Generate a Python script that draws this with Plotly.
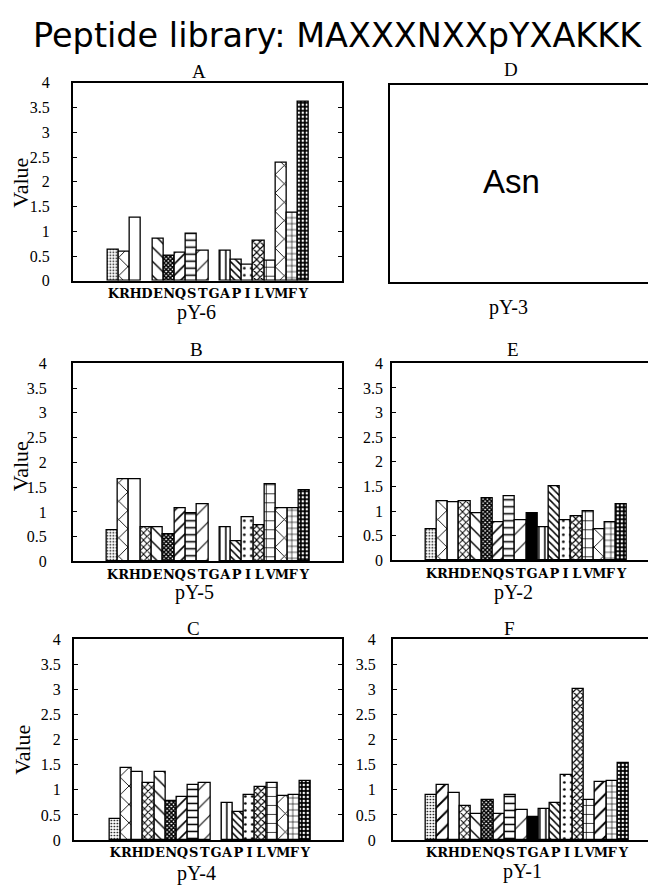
import plotly.graph_objects as go

# ---------------- data ----------------
residues = ["K", "R", "H", "D", "E", "N", "Q", "S", "T",
            "G", "A", "P", "I", "L", "V", "M", "F", "Y"]

pY6 = [0.63, 0.58, 1.27, None, 0.86, 0.50, 0.56, 0.96, 0.60,
       None, 0.60, 0.43, 0.33, 0.81, 0.41, 2.39, 1.37, 3.62]
pY5 = [0.62, 1.66, 1.66, 0.69, 0.69, 0.55, 1.07, 0.98, 1.16,
       None, 0.69, 0.41, 0.89, 0.72, 1.56, 1.07, 1.07, 1.44]
pY4 = [0.41, 1.44, 1.36, 1.13, 1.36, 0.77, 0.85, 1.10, 1.13,
       None, 0.74, 0.55, 0.90, 1.06, 1.13, 0.88, 0.90, 1.18]
pY2 = [0.64, 1.20, 1.18, 1.20, 0.96, 1.26, 0.77, 1.30, 0.81,
       0.96, 0.68, 1.51, 0.82, 0.90, 0.99, 0.64, 0.77, 1.13]
pY1 = [0.90, 1.10, 0.93, 0.67, 0.51, 0.80, 0.51, 0.90, 0.59,
       0.46, 0.62, 0.74, 1.29, 3.00, 0.80, 1.15, 1.17, 1.54]

y_ticks = [0, 0.5, 1, 1.5, 2, 2.5, 3, 3.5, 4]

main_title = "Peptide library: MAXXXNXXpYXAKKK"
missing_label = "Asn"

# ---------------- styles (pattern per residue) ----------------
# residue -> (shape, size, solidity, bg, fg)
style = {
    "K": (".", 3, 0.25, "white", "black"),
    "R": ("x", 13, 0.13, "white", "black"),
    "H": ("", 8, 0.2, "white", "black"),
    "D": ("x", 5, 0.35, "white", "black"),
    "E": ("\\", 10, 0.14, "white", "black"),
    "N": ("x", 3, 0.75, "white", "black"),
    "Q": ("/", 8, 0.2, "white", "black"),
    "S": ("-", 7, 0.22, "white", "black"),
    "T": ("/", 13, 0.08, "white", "black"),
    "G": ("/", 8, 0.5, "black", "black"),
    "A": ("|", 6, 0.25, "white", "black"),
    "P": ("\\", 5, 0.3, "white", "black"),
    "I": (".", 7, 0.12, "white", "black"),
    "L": ("x", 5, 0.4, "white", "black"),
    "V": ("+", 9, 0.16, "white", "black"),
    "M": ("x", 13, 0.13, "white", "black"),
    "F": ("+", 6, 0.2, "white", "black"),
    "Y": (".", 4, 0.3, "black", "white"),
}
# panel F uses diagonal hatching for R and M
style_F = dict(style)
style_F["R"] = ("/", 10, 0.2, "white", "black")
style_F["M"] = ("/", 10, 0.2, "white", "black")

W, H = 656, 895
# the page body adds an 8px margin, so positions below are page pixels
OX, OY = 8, 8
SERIF = "Liberation Serif"

# panel geometry in page pixels: box (left, top, right, bottom), bar extent (left, right)
panels = [
    dict(name="A", vals=pY6, sty=style, box=(73, 76, 343, 278), bars=(108, 310),
         title_xy=(200, 65), xlab="pY-6", xlab_xy=(197, 310), val_xy=(21, 178), standoff=18),
    dict(name="B", vals=pY5, sty=style, box=(73, 362, 343, 564), bars=(107, 311),
         title_xy=(197, 348), xlab="pY-5", xlab_xy=(195, 596), val_xy=(20, 467), standoff=21),
    dict(name="C", vals=pY4, sty=style, box=(74, 643, 343, 848), bars=(110, 312),
         title_xy=(194, 632), xlab="pY-4", xlab_xy=(197, 882), val_xy=(23, 756), standoff=8),
    dict(name="E", vals=pY2, sty=style, box=(393, 362, 664, 563), bars=(427, 629),
         title_xy=(515, 348), xlab="pY-2", xlab_xy=(515, 596), val_xy=None, standoff=4),
    dict(name="F", vals=pY1, sty=style_F, box=(394, 643, 664, 848), bars=(427, 631),
         title_xy=(511, 632), xlab="pY-1", xlab_xy=(524, 880), val_xy=None, standoff=12),
]


def xdom(l, r):
    return [max((l - OX) / W, 0.0), min((r - OX) / W, 1.0)]


def ydom(t, b):
    return [1 - (b - OY) / H, 1 - (t - OY) / H]


def px(x):
    return (x - OX) / W


def py(y):
    return 1 - (y - OY) / H


fig = go.Figure()
annotations = []
layout = {}

n = len(residues)
for i, p in enumerate(panels, start=1):
    bl, bt, br, bb = p["box"]
    br = min(br, W + OX)
    gl, gr = p["bars"]
    ppu = (gr - gl) / n
    x_lo = -0.5 - (gl - bl) / ppu
    x_hi = (n - 0.5) + (br - gr) / ppu
    sty = p["sty"]
    shapes = [sty[r][0] for r in residues]
    sizes = [sty[r][1] for r in residues]
    solid = [sty[r][2] for r in residues]
    bgs = [sty[r][3] for r in residues]
    fgs = [sty[r][4] for r in residues]
    xa = "x" if i == 1 else f"x{i}"
    ya = "y" if i == 1 else f"y{i}"
    fig.add_trace(go.Bar(
        x=list(range(n)), y=p["vals"], xaxis=xa, yaxis=ya,
        marker=dict(color="white", line=dict(color="black", width=1.3),
                    pattern=dict(shape=shapes, size=sizes, solidity=solid,
                                 bgcolor=bgs, fgcolor=fgs, fgopacity=1)),
        showlegend=False, hoverinfo="skip",
    ))
    kx = "xaxis" if i == 1 else f"xaxis{i}"
    ky = "yaxis" if i == 1 else f"yaxis{i}"
    layout[kx] = dict(domain=xdom(bl, br), anchor=ya, range=[x_lo, x_hi],
                      tickmode="array", tickvals=list(range(n)), ticktext=residues,
                      tickangle=0, ticks="", showline=True, mirror=True, linecolor="black",
                      linewidth=1.5, showgrid=False, zeroline=False,
                      tickfont=dict(family="DejaVu Serif", size=13, color="black",
                                    weight="bold"))
    layout[ky] = dict(domain=ydom(bt, bb), anchor=xa, range=[0, 4],
                      tickmode="array", tickvals=y_ticks,
                      ticks="inside", ticklen=4, tickwidth=1.2, tickcolor="black",
                      showline=True, mirror="ticks", linecolor="black",
                      linewidth=1.5, showgrid=False, zeroline=False,
                      ticklabelstandoff=p["standoff"],
                      tickfont=dict(family=SERIF, size=16, color="black"))
    tx, ty = p["title_xy"]
    annotations.append(dict(text=p["name"], x=px(tx), y=py(ty), xref="paper",
                            yref="paper", showarrow=False, xanchor="center",
                            yanchor="middle", font=dict(family=SERIF, size=19, color="black")))
    lx, ly = p["xlab_xy"]
    annotations.append(dict(text=p["xlab"], x=px(lx), y=py(ly), xref="paper",
                            yref="paper", showarrow=False, xanchor="center",
                            yanchor="middle", font=dict(family=SERIF, size=20, color="black")))
    if p["val_xy"]:
        vx, vy = p["val_xy"]
        annotations.append(dict(text="Value", x=px(vx), y=py(vy), xref="paper",
                                yref="paper", showarrow=False, textangle=-90,
                                xanchor="center", yanchor="middle",
                                font=dict(family=SERIF, size=22, color="black")))

# empty panel D (pY-3)
d_box = (391, 78, 664, 279)
layout["xaxis6"] = dict(domain=xdom(d_box[0], d_box[2]), anchor="y6", range=[0, 1],
                        showticklabels=False, ticks="", showline=True, mirror=True,
                        linecolor="black", linewidth=1.5, showgrid=False, zeroline=False)
layout["yaxis6"] = dict(domain=ydom(d_box[1], d_box[3]), anchor="x6", range=[0, 1],
                        showticklabels=False, ticks="", showline=True, mirror=True,
                        linecolor="black", linewidth=1.5, showgrid=False, zeroline=False)
fig.add_trace(go.Scatter(x=[], y=[], xaxis="x6", yaxis="y6", showlegend=False))
annotations.append(dict(text="D", x=px(513), y=py(63), xref="paper", yref="paper",
                        showarrow=False, xanchor="center", yanchor="middle",
                        font=dict(family=SERIF, size=19, color="black")))
annotations.append(dict(text="pY-3", x=px(510), y=py(305), xref="paper", yref="paper",
                        showarrow=False, xanchor="center", yanchor="middle",
                        font=dict(family=SERIF, size=20, color="black")))
annotations.append(dict(text=missing_label, x=px(513), y=py(177), xref="paper",
                        yref="paper", showarrow=False, xanchor="center", yanchor="middle",
                        font=dict(family="Liberation Sans", size=33, color="black")))
annotations.append(dict(text=main_title, x=px(339), y=py(28), xref="paper",
                        yref="paper", showarrow=False, xanchor="center", yanchor="middle",
                        font=dict(family="DejaVu Sans", size=33.5, color="black")))

fig.update_layout(
    width=W, height=H, margin=dict(l=0, r=0, t=0, b=0),
    paper_bgcolor="white", plot_bgcolor="white",
    bargap=0, annotations=annotations, **layout,
)

fig.write_html("out.html")
